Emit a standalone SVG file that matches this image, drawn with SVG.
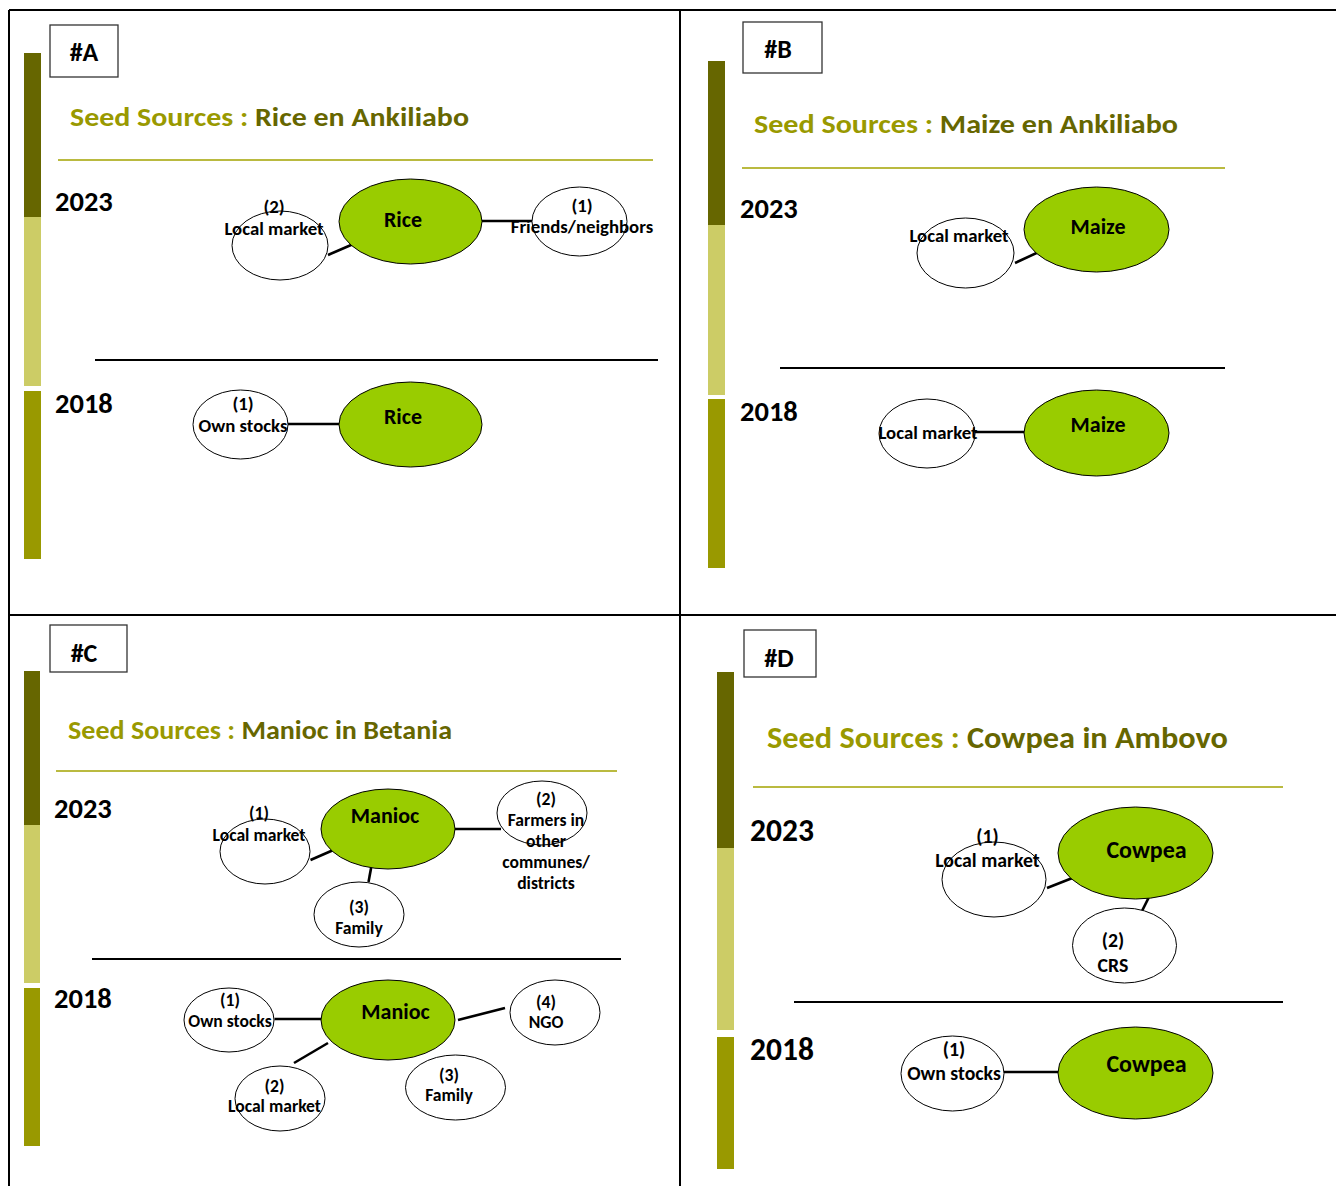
<svg xmlns="http://www.w3.org/2000/svg" width="1336" height="1186" viewBox="0 0 1336 1186">
<style>
text{font-family:Carlito,Lato,"Liberation Sans",sans-serif;font-weight:bold;fill:#000}
.c{text-anchor:middle}
.l17{font-size:18.8px}.l16{font-size:17.6px}.l18{font-size:19.8px}
.n20{font-size:22px}.n22{font-size:24px}
.crop{fill:#99cc00;stroke:#000;stroke-width:1}
.src{fill:#fff;stroke:#000;stroke-width:1}
.conn line{stroke:#000;stroke-width:2.6}
.box{fill:#fff;stroke:#333;stroke-width:1.3}
.tl{stroke:#a3a300;stroke-width:1.6}
.sep{stroke:#000;stroke-width:2}
.yr{font-size:28.5px}
.yrd{font-size:31.5px}
.hd{font-size:26px}
.t1{fill:#999900}.t2{fill:#666600}
.dk{fill:#666600}.lt{fill:#cccc66}.ol{fill:#999900}
</style>
<rect width="1336" height="1186" fill="#fff"/>
<!-- frame -->
<g stroke="#000" stroke-width="2">
<line x1="9" y1="10" x2="1336" y2="10"/>
<line x1="9" y1="10" x2="9" y2="1186"/>
<line x1="680" y1="10" x2="680" y2="1186"/>
<line x1="9" y1="615" x2="1336" y2="615"/>
</g>
<!-- Panel A decorations -->
<rect class="dk" x="24" y="53" width="17" height="164"/>
<rect class="lt" x="24" y="217" width="17" height="169"/>
<rect class="ol" x="24" y="391" width="17" height="168"/>
<rect class="box" x="50" y="25" width="68" height="52"/>
<text class="c hd" x="84" y="61">#A</text>
<text x="70" y="126" font-size="27" textLength="399" lengthAdjust="spacingAndGlyphs"><tspan class="t1">Seed Sources : </tspan><tspan class="t2">Rice en Ankiliabo</tspan></text>
<line class="tl" x1="58" y1="160" x2="653" y2="160"/>
<line class="sep" x1="95" y1="360" x2="658" y2="360"/>
<text class="yr" x="55" y="211">2023</text>
<text class="yr" x="55" y="413">2018</text>
<!-- Panel B decorations -->
<rect class="dk" x="708" y="61" width="17" height="164"/>
<rect class="lt" x="708" y="225" width="17" height="170"/>
<rect class="ol" x="708" y="399" width="17" height="169"/>
<rect class="box" x="743" y="22" width="79" height="51"/>
<text class="c hd" x="778" y="58">#B</text>
<text x="754" y="133" font-size="27" textLength="424" lengthAdjust="spacingAndGlyphs"><tspan class="t1">Seed Sources : </tspan><tspan class="t2">Maize en Ankiliabo</tspan></text>
<line class="tl" x1="742" y1="168" x2="1225" y2="168"/>
<line class="sep" x1="780" y1="368" x2="1225" y2="368"/>
<text class="yr" x="740" y="218">2023</text>
<text class="yr" x="740" y="421">2018</text>
<!-- Panel C decorations -->
<rect class="dk" x="24" y="671" width="16" height="154"/>
<rect class="lt" x="24" y="825" width="16" height="158"/>
<rect class="ol" x="24" y="988" width="16" height="158"/>
<rect class="box" x="50" y="625" width="77" height="47"/>
<text class="c hd" x="84" y="662">#C</text>
<text x="68" y="739" font-size="26" textLength="384" lengthAdjust="spacingAndGlyphs"><tspan class="t1">Seed Sources : </tspan><tspan class="t2">Manioc in Betania</tspan></text>
<line class="tl" x1="56" y1="771" x2="617" y2="771"/>
<line class="sep" x1="92" y1="959" x2="621" y2="959"/>
<text class="yr" x="54" y="818">2023</text>
<text class="yr" x="54" y="1008">2018</text>
<!-- Panel D decorations -->
<rect class="dk" x="717" y="672" width="17" height="176"/>
<rect class="lt" x="717" y="848" width="17" height="182"/>
<rect class="ol" x="717" y="1037" width="17" height="132"/>
<rect class="box" x="744" y="630" width="72" height="47"/>
<text class="c hd" x="779" y="667">#D</text>
<text x="767" y="748" font-size="30" textLength="461" lengthAdjust="spacingAndGlyphs"><tspan class="t1">Seed Sources : </tspan><tspan class="t2">Cowpea in Ambovo</tspan></text>
<line class="tl" x1="753" y1="787" x2="1283" y2="787"/>
<line class="sep" x1="794" y1="1002" x2="1283" y2="1002"/>
<text class="yrd" x="750" y="841">2023</text>
<text class="yrd" x="750" y="1060">2018</text>

<!-- connectors -->
<g id="connectors" class="conn">
<line x1="328" y1="255" x2="358" y2="242"/>
<line x1="482" y1="221" x2="532" y2="221"/>
<line x1="288" y1="424" x2="339" y2="424"/>
<line x1="1015" y1="263" x2="1043" y2="250"/>
<line x1="975" y1="432" x2="1024" y2="432"/>
<line x1="310.5" y1="860" x2="338" y2="848"/>
<line x1="455" y1="829" x2="501" y2="829"/>
<line x1="372" y1="863" x2="368.5" y2="882"/>
<line x1="274.5" y1="1019" x2="321" y2="1019"/>
<line x1="458" y1="1020" x2="505" y2="1008"/>
<line x1="294" y1="1063" x2="328" y2="1043"/>
<line x1="1047" y1="888" x2="1077.5" y2="876"/>
<line x1="1148.5" y1="898" x2="1142" y2="911"/>
<line x1="1004" y1="1072" x2="1058" y2="1072"/>
</g>

<!-- Panel A nodes -->
<g id="A23_rice"><ellipse class="crop" cx="410.5" cy="221.5" rx="71.5" ry="42.5"/><text class="c n20" x="403" y="227">Rice</text></g>
<g id="A23_local"><ellipse class="src" cx="280" cy="245.5" rx="48" ry="34.5"/><text class="c l17" x="274" y="213">(2)</text><text class="c l17" x="274" y="235">Local market</text></g>
<g id="A23_friends"><ellipse class="src" cx="579.5" cy="221.5" rx="47.5" ry="34.5"/><text class="c l17" x="582" y="212">(1)</text><text class="c l17" x="582" y="233">Friends/neighbors</text></g>
<g id="A18_own"><ellipse class="src" cx="240.5" cy="424.5" rx="47.5" ry="34.5"/><text class="c l17" x="243" y="410">(1)</text><text class="c l17" x="243" y="432">Own stocks</text></g>
<g id="A18_rice"><ellipse class="crop" cx="410.5" cy="424.5" rx="71.5" ry="42.5"/><text class="c n20" x="403" y="424">Rice</text></g>

<!-- Panel B nodes -->
<g id="B23_maize"><ellipse class="crop" cx="1096.5" cy="229.5" rx="72.5" ry="42.5"/><text class="c n20" x="1098" y="234">Maize</text></g>
<g id="B23_local"><ellipse class="src" cx="965.5" cy="253" rx="48.5" ry="35"/><text class="c l17" x="959" y="242">Local market</text></g>
<g id="B18_local"><ellipse class="src" cx="927" cy="433.5" rx="48" ry="34.5"/><text class="c l17" x="928" y="439">Local market</text></g>
<g id="B18_maize"><ellipse class="crop" cx="1096.5" cy="433" rx="72.5" ry="43"/><text class="c n20" x="1098" y="432">Maize</text></g>

<!-- Panel C nodes -->
<g id="C23_manioc"><ellipse class="crop" cx="388" cy="829" rx="67" ry="40"/><text class="c n20" x="385" y="823">Manioc</text></g>
<g id="C23_local"><ellipse class="src" cx="265" cy="851.5" rx="45" ry="32.5"/><text class="c l16" x="259" y="819">(1)</text><text class="c l16" x="259" y="841">Local market</text></g>
<g id="C23_farmers"><ellipse class="src" cx="542" cy="813" rx="45" ry="32"/><text class="c l16" x="546" y="805">(2)</text><text class="c l16" x="546" y="826">Farmers in</text><text class="c l16" x="546" y="847">other</text><text class="c l16" x="546" y="868">communes/</text><text class="c l16" x="546" y="889">districts</text></g>
<g id="C23_family"><ellipse class="src" cx="359" cy="914.5" rx="45" ry="32.5"/><text class="c l16" x="359" y="913">(3)</text><text class="c l16" x="359" y="934">Family</text></g>
<g id="C18_manioc"><ellipse class="crop" cx="388" cy="1020" rx="67" ry="40"/><text class="c n20" x="395.5" y="1019">Manioc</text></g>
<g id="C18_own"><ellipse class="src" cx="229" cy="1020" rx="45" ry="32"/><text class="c l16" x="230" y="1006">(1)</text><text class="c l16" x="230" y="1027">Own stocks</text></g>
<g id="C18_ngo"><ellipse class="src" cx="555" cy="1012.5" rx="45" ry="32.5"/><text class="c l16" x="546" y="1008">(4)</text><text class="c l16" x="546" y="1028">NGO</text></g>
<g id="C18_local"><ellipse class="src" cx="280" cy="1098.5" rx="45" ry="32.5"/><text class="c l16" x="274.5" y="1092">(2)</text><text class="c l16" x="274.5" y="1112">Local market</text></g>
<g id="C18_family"><ellipse class="src" cx="455.5" cy="1087.5" rx="50" ry="32.5"/><text class="c l16" x="449" y="1081">(3)</text><text class="c l16" x="449" y="1101">Family</text></g>

<!-- Panel D nodes -->
<g id="D23_cowpea"><ellipse class="crop" cx="1135.5" cy="853" rx="77.5" ry="46"/><text class="c n22" x="1146.5" y="858">Cowpea</text></g>
<g id="D23_local"><ellipse class="src" cx="994" cy="879.5" rx="52" ry="37.5"/><text class="c l18" x="987.5" y="843">(1)</text><text class="c l18" x="987.5" y="867">Local market</text></g>
<g id="D23_crs"><ellipse class="src" cx="1124.5" cy="945.5" rx="52" ry="37.5"/><text class="c l18" x="1113" y="947">(2)</text><text class="c l18" x="1113" y="972">CRS</text></g>
<g id="D18_own"><ellipse class="src" cx="952.5" cy="1073.5" rx="51.5" ry="37.5"/><text class="c l18" x="954" y="1056">(1)</text><text class="c l18" x="954" y="1080">Own stocks</text></g>
<g id="D18_cowpea"><ellipse class="crop" cx="1135.5" cy="1073" rx="77.5" ry="46"/><text class="c n22" x="1146.5" y="1072">Cowpea</text></g>
</svg>
